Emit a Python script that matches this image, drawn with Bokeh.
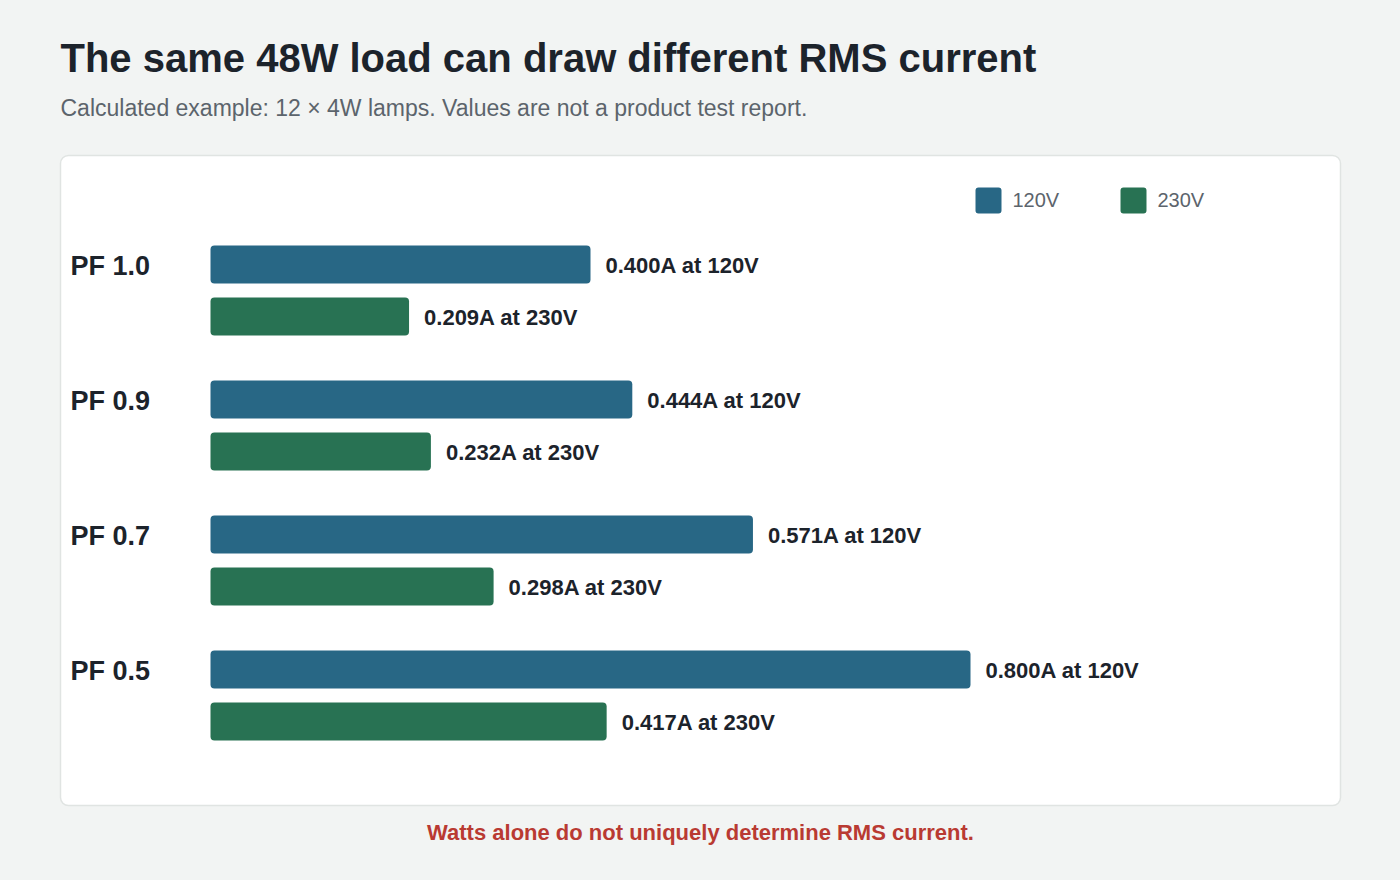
from bokeh.plotting import figure
from bokeh.models import Range1d, ColumnDataSource
from bokeh.core.properties import value
from bokeh.embed import file_html
from bokeh.resources import INLINE

# ---- data ----
power_factors = ["PF 1.0", "PF 0.9", "PF 0.7", "PF 0.5"]
amps_120v = [0.400, 0.444, 0.571, 0.800]
amps_230v = [0.209, 0.232, 0.298, 0.417]
series_names = ["120V", "230V"]
title_text = "The same 48W load can draw different RMS current"
subtitle_text = "Calculated example: 12 \u00d7 4W lamps. Values are not a product test report."
footer_text = "Watts alone do not uniquely determine RMS current."

# ---- style ----
BG = "#f2f4f3"
BLUE = "#286785"
GREEN = "#287253"
DARK = "#1c232b"
GREY = "#5c646c"
RED = "#b93a32"
FONT = value("Liberation Sans")

W, H = 1400, 880
p = figure(width=W, height=H, output_backend="svg", toolbar_location=None,
           x_range=Range1d(0, W), y_range=Range1d(H, 0),
           min_border=0, x_axis_type=None, y_axis_type=None,
           background_fill_color=BG, border_fill_color=BG, outline_line_color=None)
p.grid.visible = False

# amps scale: 0 A at x=210, 950 px per amp
x0, ppa = 210, 950.0
p.extra_x_ranges = {"amps": Range1d((0 - x0) / ppa, (W - x0) / ppa)}

# card
p.quad(left=[60], right=[1340], top=[155], bottom=[805], fill_color="white",
       line_color="#e0e4e2", line_width=1.5, border_radius=8)

# title / subtitle / footer
p.text(x=[60], y=[57], text=[title_text], text_font=FONT, text_font_size="40px",
       text_font_style="bold", text_color=DARK, text_baseline="middle")
p.text(x=[60], y=[107], text=[subtitle_text], text_font=FONT, text_font_size="23px",
       text_color=GREY, text_baseline="middle")
p.text(x=[700], y=[832], text=[footer_text], text_font=FONT, text_font_size="22px",
       text_font_style="bold", text_color=RED, text_align="center", text_baseline="middle")

# bars
group_top, step, bar_h = 264, 135, 38
y_blue = [group_top + i * step for i in range(len(power_factors))]
y_green = [y + 52 for y in y_blue]

src_b = ColumnDataSource(dict(y=y_blue, v=amps_120v,
                              lab=[f"{v:.3f}A at {series_names[0]}" for v in amps_120v]))
src_g = ColumnDataSource(dict(y=y_green, v=amps_230v,
                              lab=[f"{v:.3f}A at {series_names[1]}" for v in amps_230v]))

p.hbar(y="y", left=0, right="v", height=bar_h, source=src_b, x_range_name="amps",
       fill_color=BLUE, line_color=None, border_radius=4)
p.hbar(y="y", left=0, right="v", height=bar_h, source=src_g, x_range_name="amps",
       fill_color=GREEN, line_color=None, border_radius=4)

for src in (src_b, src_g):
    p.text(x="v", y="y", text="lab", source=src, x_range_name="amps", x_offset=15,
           y_offset=1, text_font=FONT, text_font_size="22px", text_font_style="bold",
           text_color=DARK, text_baseline="middle")

# category labels
p.text(x=[70] * len(power_factors), y=[y + 1 for y in y_blue], text=power_factors,
       text_font=FONT, text_font_size="27px", text_font_style="bold", text_color=DARK,
       text_baseline="middle")

# legend
leg_x = [975, 1120]
p.quad(left=leg_x, right=[x + 26 for x in leg_x], top=[187, 187], bottom=[213, 213],
       fill_color=[BLUE, GREEN], line_color=None, border_radius=3)
p.text(x=[x + 37 for x in leg_x], y=[199, 199], text=series_names, text_font=FONT,
       text_font_size="20px", text_color=GREY, text_baseline="middle")

html = file_html(p, INLINE)
html = html.replace("<head>", "<head><style>html,body{background:%s;}</style>" % BG, 1)
open("out.html", "w").write(html)
